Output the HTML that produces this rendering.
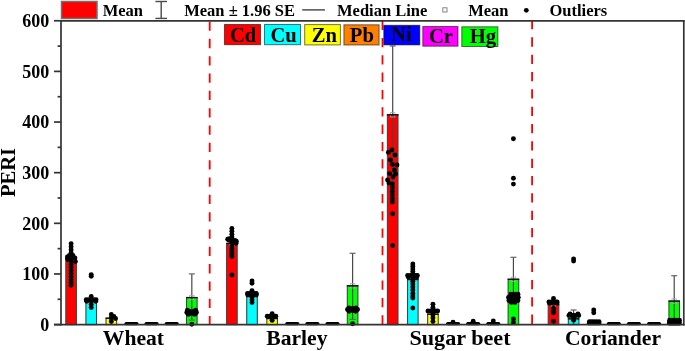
<!DOCTYPE html>
<html><head><meta charset="utf-8"><style>
html,body{margin:0;padding:0;background:#fff;width:685px;height:351px;overflow:hidden;}
svg{display:block;will-change:transform;}
</style></head><body>
<svg width="685" height="351" viewBox="0 0 685 351">
<rect width="685" height="351" fill="#fff"/>
<line x1="209.7" y1="21.5" x2="209.7" y2="324" stroke="#ff0000" stroke-width="1.8" stroke-dasharray="9.3 8.03"/>
<line x1="382.5" y1="20.6" x2="382.5" y2="324" stroke="#ff0000" stroke-width="1.8" stroke-dasharray="9.3 8.03"/>
<line x1="532.1" y1="20.0" x2="532.1" y2="324" stroke="#ff0000" stroke-width="1.8" stroke-dasharray="9.3 8.03"/>
<rect x="65.80" y="258.50" width="10.6" height="66.10" fill="#ff0000" stroke="#444" stroke-width="1.1"/>
<rect x="68.90" y="256.30" width="4.4" height="4.4" fill="none" stroke="#aaa" stroke-width="0.8"/>
<line x1="65.30" y1="258.50" x2="76.90" y2="258.50" stroke="#111" stroke-width="1.4"/>
<circle cx="71.10" cy="243.80" r="2.45" fill="#000"/>
<circle cx="71.10" cy="246.80" r="2.45" fill="#000"/>
<circle cx="71.10" cy="249.80" r="2.45" fill="#000"/>
<circle cx="71.10" cy="252.80" r="2.45" fill="#000"/>
<circle cx="71.10" cy="255.80" r="2.45" fill="#000"/>
<circle cx="71.10" cy="258.80" r="2.45" fill="#000"/>
<circle cx="71.10" cy="261.80" r="2.45" fill="#000"/>
<circle cx="71.10" cy="264.80" r="2.45" fill="#000"/>
<circle cx="71.10" cy="267.60" r="2.45" fill="#000"/>
<circle cx="71.10" cy="270.40" r="2.45" fill="#000"/>
<circle cx="71.10" cy="273.40" r="2.45" fill="#000"/>
<circle cx="71.10" cy="276.60" r="2.45" fill="#000"/>
<circle cx="71.10" cy="279.80" r="2.45" fill="#000"/>
<circle cx="71.10" cy="282.50" r="2.45" fill="#000"/>
<circle cx="71.10" cy="285.20" r="2.45" fill="#000"/>
<circle cx="67.40" cy="257.00" r="2.45" fill="#000"/>
<circle cx="69.40" cy="255.50" r="2.45" fill="#000"/>
<circle cx="72.90" cy="255.50" r="2.45" fill="#000"/>
<circle cx="74.90" cy="258.00" r="2.45" fill="#000"/>
<circle cx="75.40" cy="261.60" r="2.45" fill="#000"/>
<circle cx="67.90" cy="259.50" r="2.45" fill="#000"/>
<rect x="85.92" y="300.50" width="10.6" height="24.10" fill="#00ffff" stroke="#444" stroke-width="1.1"/>
<rect x="89.02" y="298.30" width="4.4" height="4.4" fill="none" stroke="#aaa" stroke-width="0.8"/>
<line x1="85.42" y1="300.50" x2="97.02" y2="300.50" stroke="#111" stroke-width="1.4"/>
<circle cx="91.22" cy="274.60" r="2.45" fill="#000"/>
<circle cx="91.22" cy="276.20" r="2.45" fill="#000"/>
<circle cx="91.22" cy="296.50" r="2.45" fill="#000"/>
<circle cx="91.22" cy="301.00" r="2.45" fill="#000"/>
<circle cx="91.22" cy="304.50" r="2.45" fill="#000"/>
<circle cx="91.22" cy="307.60" r="2.45" fill="#000"/>
<circle cx="86.22" cy="299.80" r="2.45" fill="#000"/>
<circle cx="88.72" cy="299.80" r="2.45" fill="#000"/>
<circle cx="93.72" cy="299.80" r="2.45" fill="#000"/>
<circle cx="96.02" cy="299.80" r="2.45" fill="#000"/>
<circle cx="86.72" cy="301.20" r="2.45" fill="#000"/>
<circle cx="95.72" cy="301.20" r="2.45" fill="#000"/>
<rect x="106.04" y="318.20" width="10.6" height="6.40" fill="#ffff00" stroke="#444" stroke-width="1.1"/>
<rect x="109.14" y="316.00" width="4.4" height="4.4" fill="none" stroke="#aaa" stroke-width="0.8"/>
<line x1="105.54" y1="318.20" x2="117.14" y2="318.20" stroke="#111" stroke-width="1.4"/>
<circle cx="111.34" cy="314.40" r="2.45" fill="#000"/>
<circle cx="111.34" cy="318.00" r="2.45" fill="#000"/>
<circle cx="111.34" cy="321.50" r="2.45" fill="#000"/>
<circle cx="115.54" cy="318.50" r="2.45" fill="#000"/>
<circle cx="113.84" cy="316.50" r="2.45" fill="#000"/>
<rect x="124.46" y="322.00" width="14.00" height="3.20" rx="1.6" fill="#000"/>
<rect x="144.58" y="322.00" width="14.00" height="3.20" rx="1.6" fill="#000"/>
<rect x="164.70" y="322.00" width="14.00" height="3.20" rx="1.6" fill="#000"/>
<rect x="186.52" y="297.60" width="10.6" height="27.00" fill="#00ff00" stroke="#444" stroke-width="1.1"/>
<line x1="191.82" y1="273.9" x2="191.82" y2="320.1" stroke="#484848" stroke-width="1.2"/>
<line x1="188.82" y1="273.9" x2="194.82" y2="273.9" stroke="#666" stroke-width="1.2"/>
<line x1="188.82" y1="320.1" x2="194.82" y2="320.1" stroke="#666" stroke-width="1.2"/>
<rect x="189.62" y="295.40" width="4.4" height="4.4" fill="none" stroke="#aaa" stroke-width="0.8"/>
<line x1="186.02" y1="297.60" x2="197.62" y2="297.60" stroke="#111" stroke-width="1.4"/>
<circle cx="187.42" cy="310.30" r="2.45" fill="#000"/>
<circle cx="186.82" cy="312.50" r="2.45" fill="#000"/>
<circle cx="188.32" cy="314.30" r="2.45" fill="#000"/>
<circle cx="189.42" cy="311.50" r="2.45" fill="#000"/>
<circle cx="189.42" cy="313.80" r="2.45" fill="#000"/>
<circle cx="195.62" cy="310.30" r="2.45" fill="#000"/>
<circle cx="196.42" cy="312.50" r="2.45" fill="#000"/>
<circle cx="194.82" cy="314.30" r="2.45" fill="#000"/>
<circle cx="193.82" cy="311.50" r="2.45" fill="#000"/>
<circle cx="193.82" cy="313.80" r="2.45" fill="#000"/>
<circle cx="191.82" cy="312.00" r="2.45" fill="#000"/>
<circle cx="191.82" cy="313.00" r="2.45" fill="#000"/>
<circle cx="191.82" cy="324.20" r="2.45" fill="#000"/>
<rect x="226.60" y="243.50" width="10.6" height="81.10" fill="#ff0000" stroke="#444" stroke-width="1.1"/>
<rect x="229.70" y="241.30" width="4.4" height="4.4" fill="none" stroke="#aaa" stroke-width="0.8"/>
<line x1="226.10" y1="243.50" x2="237.70" y2="243.50" stroke="#111" stroke-width="1.4"/>
<circle cx="231.90" cy="228.40" r="2.45" fill="#000"/>
<circle cx="231.90" cy="231.30" r="2.45" fill="#000"/>
<circle cx="231.90" cy="234.20" r="2.45" fill="#000"/>
<circle cx="231.90" cy="237.10" r="2.45" fill="#000"/>
<circle cx="231.90" cy="240.00" r="2.45" fill="#000"/>
<circle cx="231.90" cy="243.00" r="2.45" fill="#000"/>
<circle cx="231.90" cy="246.00" r="2.45" fill="#000"/>
<circle cx="231.90" cy="249.00" r="2.45" fill="#000"/>
<circle cx="231.90" cy="252.00" r="2.45" fill="#000"/>
<circle cx="231.90" cy="254.50" r="2.45" fill="#000"/>
<circle cx="231.90" cy="256.60" r="2.45" fill="#000"/>
<circle cx="231.90" cy="275.00" r="2.45" fill="#000"/>
<circle cx="227.70" cy="239.20" r="2.45" fill="#000"/>
<circle cx="229.30" cy="238.80" r="2.45" fill="#000"/>
<circle cx="228.90" cy="240.20" r="2.45" fill="#000"/>
<circle cx="236.30" cy="241.20" r="2.45" fill="#000"/>
<circle cx="234.90" cy="240.50" r="2.45" fill="#000"/>
<circle cx="236.10" cy="243.20" r="2.45" fill="#000"/>
<circle cx="234.40" cy="242.50" r="2.45" fill="#000"/>
<rect x="246.72" y="296.50" width="10.6" height="28.10" fill="#00ffff" stroke="#444" stroke-width="1.1"/>
<rect x="249.82" y="294.30" width="4.4" height="4.4" fill="none" stroke="#aaa" stroke-width="0.8"/>
<line x1="246.22" y1="296.50" x2="257.82" y2="296.50" stroke="#111" stroke-width="1.4"/>
<circle cx="252.02" cy="281.00" r="2.45" fill="#000"/>
<circle cx="252.02" cy="283.20" r="2.45" fill="#000"/>
<circle cx="252.02" cy="290.60" r="2.45" fill="#000"/>
<circle cx="252.02" cy="297.00" r="2.45" fill="#000"/>
<circle cx="252.02" cy="300.00" r="2.45" fill="#000"/>
<circle cx="252.02" cy="302.60" r="2.45" fill="#000"/>
<circle cx="247.52" cy="293.50" r="2.45" fill="#000"/>
<circle cx="249.82" cy="293.50" r="2.45" fill="#000"/>
<circle cx="252.02" cy="293.50" r="2.45" fill="#000"/>
<circle cx="254.22" cy="293.50" r="2.45" fill="#000"/>
<circle cx="256.22" cy="293.50" r="2.45" fill="#000"/>
<circle cx="247.72" cy="294.80" r="2.45" fill="#000"/>
<circle cx="250.02" cy="294.80" r="2.45" fill="#000"/>
<circle cx="254.02" cy="294.80" r="2.45" fill="#000"/>
<circle cx="256.42" cy="294.80" r="2.45" fill="#000"/>
<rect x="266.84" y="318.50" width="10.6" height="6.10" fill="#ffff00" stroke="#444" stroke-width="1.1"/>
<rect x="269.94" y="316.30" width="4.4" height="4.4" fill="none" stroke="#aaa" stroke-width="0.8"/>
<line x1="266.34" y1="318.50" x2="277.94" y2="318.50" stroke="#111" stroke-width="1.4"/>
<circle cx="272.14" cy="313.80" r="2.45" fill="#000"/>
<circle cx="272.14" cy="317.50" r="2.45" fill="#000"/>
<circle cx="272.14" cy="320.40" r="2.45" fill="#000"/>
<circle cx="267.24" cy="316.20" r="2.45" fill="#000"/>
<circle cx="269.64" cy="316.20" r="2.45" fill="#000"/>
<circle cx="274.64" cy="316.20" r="2.45" fill="#000"/>
<circle cx="275.84" cy="316.20" r="2.45" fill="#000"/>
<rect x="285.26" y="322.00" width="14.00" height="3.20" rx="1.6" fill="#000"/>
<rect x="305.38" y="322.00" width="14.00" height="3.20" rx="1.6" fill="#000"/>
<rect x="325.50" y="322.00" width="14.00" height="3.20" rx="1.6" fill="#000"/>
<rect x="347.32" y="285.80" width="10.6" height="38.80" fill="#00ff00" stroke="#444" stroke-width="1.1"/>
<line x1="352.62" y1="253.3" x2="352.62" y2="319.4" stroke="#484848" stroke-width="1.2"/>
<line x1="349.62" y1="253.3" x2="355.62" y2="253.3" stroke="#666" stroke-width="1.2"/>
<line x1="349.62" y1="319.4" x2="355.62" y2="319.4" stroke="#666" stroke-width="1.2"/>
<rect x="350.42" y="283.60" width="4.4" height="4.4" fill="none" stroke="#aaa" stroke-width="0.8"/>
<line x1="346.82" y1="285.80" x2="358.42" y2="285.80" stroke="#111" stroke-width="1.4"/>
<circle cx="348.92" cy="307.90" r="2.45" fill="#000"/>
<circle cx="347.52" cy="309.50" r="2.45" fill="#000"/>
<circle cx="349.12" cy="311.30" r="2.45" fill="#000"/>
<circle cx="350.92" cy="309.50" r="2.45" fill="#000"/>
<circle cx="355.92" cy="307.90" r="2.45" fill="#000"/>
<circle cx="357.52" cy="309.50" r="2.45" fill="#000"/>
<circle cx="355.72" cy="311.30" r="2.45" fill="#000"/>
<circle cx="354.32" cy="309.50" r="2.45" fill="#000"/>
<circle cx="352.62" cy="309.50" r="2.45" fill="#000"/>
<circle cx="352.62" cy="308.50" r="2.45" fill="#000"/>
<circle cx="352.62" cy="310.50" r="2.45" fill="#000"/>
<circle cx="352.62" cy="323.80" r="2.45" fill="#000"/>
<rect x="387.40" y="114.80" width="10.6" height="209.80" fill="#ff0000" stroke="#444" stroke-width="1.1"/>
<line x1="392.70" y1="46.0" x2="392.70" y2="183.8" stroke="#484848" stroke-width="1.2"/>
<line x1="389.70" y1="46.0" x2="395.70" y2="46.0" stroke="#666" stroke-width="1.2"/>
<line x1="389.70" y1="183.8" x2="395.70" y2="183.8" stroke="#666" stroke-width="1.2"/>
<rect x="390.50" y="112.60" width="4.4" height="4.4" fill="none" stroke="#aaa" stroke-width="0.8"/>
<line x1="386.90" y1="114.80" x2="398.50" y2="114.80" stroke="#111" stroke-width="1.4"/>
<circle cx="388.40" cy="152.40" r="2.45" fill="#000"/>
<circle cx="392.00" cy="150.00" r="2.45" fill="#000"/>
<circle cx="395.00" cy="155.00" r="2.45" fill="#000"/>
<circle cx="390.40" cy="160.00" r="2.45" fill="#000"/>
<circle cx="392.40" cy="164.40" r="2.45" fill="#000"/>
<circle cx="397.00" cy="165.00" r="2.45" fill="#000"/>
<circle cx="394.40" cy="170.00" r="2.45" fill="#000"/>
<circle cx="389.60" cy="173.60" r="2.45" fill="#000"/>
<circle cx="395.60" cy="174.00" r="2.45" fill="#000"/>
<circle cx="393.00" cy="177.00" r="2.45" fill="#000"/>
<circle cx="387.60" cy="180.00" r="2.45" fill="#000"/>
<circle cx="389.00" cy="183.00" r="2.45" fill="#000"/>
<circle cx="392.40" cy="184.00" r="2.45" fill="#000"/>
<circle cx="392.40" cy="187.60" r="2.45" fill="#000"/>
<circle cx="392.40" cy="191.20" r="2.45" fill="#000"/>
<circle cx="392.40" cy="194.80" r="2.45" fill="#000"/>
<circle cx="392.40" cy="198.40" r="2.45" fill="#000"/>
<circle cx="392.40" cy="202.00" r="2.45" fill="#000"/>
<circle cx="392.70" cy="213.70" r="2.45" fill="#000"/>
<circle cx="392.70" cy="245.50" r="2.45" fill="#000"/>
<rect x="407.52" y="279.50" width="10.6" height="45.10" fill="#00ffff" stroke="#444" stroke-width="1.1"/>
<rect x="410.62" y="277.30" width="4.4" height="4.4" fill="none" stroke="#aaa" stroke-width="0.8"/>
<line x1="407.02" y1="279.50" x2="418.62" y2="279.50" stroke="#111" stroke-width="1.4"/>
<circle cx="412.82" cy="264.00" r="2.45" fill="#000"/>
<circle cx="412.82" cy="266.50" r="2.45" fill="#000"/>
<circle cx="412.82" cy="269.00" r="2.45" fill="#000"/>
<circle cx="412.82" cy="271.50" r="2.45" fill="#000"/>
<circle cx="412.82" cy="274.00" r="2.45" fill="#000"/>
<circle cx="412.82" cy="276.50" r="2.45" fill="#000"/>
<circle cx="412.82" cy="279.00" r="2.45" fill="#000"/>
<circle cx="412.82" cy="281.50" r="2.45" fill="#000"/>
<circle cx="412.82" cy="284.00" r="2.45" fill="#000"/>
<circle cx="412.82" cy="287.00" r="2.45" fill="#000"/>
<circle cx="412.82" cy="290.00" r="2.45" fill="#000"/>
<circle cx="412.82" cy="293.50" r="2.45" fill="#000"/>
<circle cx="412.82" cy="296.00" r="2.45" fill="#000"/>
<circle cx="412.82" cy="298.00" r="2.45" fill="#000"/>
<circle cx="412.82" cy="308.00" r="2.45" fill="#000"/>
<circle cx="407.62" cy="275.50" r="2.45" fill="#000"/>
<circle cx="410.22" cy="275.50" r="2.45" fill="#000"/>
<circle cx="415.42" cy="275.50" r="2.45" fill="#000"/>
<circle cx="417.32" cy="275.50" r="2.45" fill="#000"/>
<circle cx="408.32" cy="277.00" r="2.45" fill="#000"/>
<circle cx="416.82" cy="277.00" r="2.45" fill="#000"/>
<rect x="427.64" y="314.20" width="10.6" height="10.40" fill="#ffff00" stroke="#444" stroke-width="1.1"/>
<rect x="430.74" y="312.00" width="4.4" height="4.4" fill="none" stroke="#aaa" stroke-width="0.8"/>
<line x1="427.14" y1="314.20" x2="438.74" y2="314.20" stroke="#111" stroke-width="1.4"/>
<circle cx="432.94" cy="304.30" r="2.45" fill="#000"/>
<circle cx="432.94" cy="307.50" r="2.45" fill="#000"/>
<circle cx="432.94" cy="311.00" r="2.45" fill="#000"/>
<circle cx="432.94" cy="314.50" r="2.45" fill="#000"/>
<circle cx="432.94" cy="318.00" r="2.45" fill="#000"/>
<circle cx="432.94" cy="321.50" r="2.45" fill="#000"/>
<circle cx="427.94" cy="311.00" r="2.45" fill="#000"/>
<circle cx="430.44" cy="311.00" r="2.45" fill="#000"/>
<circle cx="435.44" cy="311.00" r="2.45" fill="#000"/>
<circle cx="437.64" cy="311.00" r="2.45" fill="#000"/>
<rect x="446.06" y="322.00" width="14.00" height="3.20" rx="1.6" fill="#000"/>
<circle cx="453.06" cy="322.30" r="2.45" fill="#000"/>
<rect x="466.18" y="322.00" width="14.00" height="3.20" rx="1.6" fill="#000"/>
<circle cx="473.18" cy="321.30" r="2.45" fill="#000"/>
<rect x="486.30" y="322.00" width="14.00" height="3.20" rx="1.6" fill="#000"/>
<circle cx="493.30" cy="320.90" r="2.45" fill="#000"/>
<rect x="508.12" y="279.30" width="10.6" height="45.30" fill="#00ff00" stroke="#444" stroke-width="1.1"/>
<line x1="513.42" y1="257.3" x2="513.42" y2="302.8" stroke="#484848" stroke-width="1.2"/>
<line x1="510.42" y1="257.3" x2="516.42" y2="257.3" stroke="#666" stroke-width="1.2"/>
<line x1="510.42" y1="302.8" x2="516.42" y2="302.8" stroke="#666" stroke-width="1.2"/>
<rect x="511.22" y="277.10" width="4.4" height="4.4" fill="none" stroke="#aaa" stroke-width="0.8"/>
<line x1="507.62" y1="279.30" x2="519.22" y2="279.30" stroke="#111" stroke-width="1.4"/>
<circle cx="510.92" cy="294.20" r="2.45" fill="#000"/>
<circle cx="513.42" cy="294.20" r="2.45" fill="#000"/>
<circle cx="515.92" cy="294.20" r="2.45" fill="#000"/>
<circle cx="517.92" cy="294.20" r="2.45" fill="#000"/>
<circle cx="508.52" cy="297.50" r="2.45" fill="#000"/>
<circle cx="511.02" cy="297.50" r="2.45" fill="#000"/>
<circle cx="513.42" cy="297.50" r="2.45" fill="#000"/>
<circle cx="515.82" cy="297.50" r="2.45" fill="#000"/>
<circle cx="518.32" cy="297.50" r="2.45" fill="#000"/>
<circle cx="508.92" cy="300.50" r="2.45" fill="#000"/>
<circle cx="511.42" cy="300.50" r="2.45" fill="#000"/>
<circle cx="513.42" cy="300.50" r="2.45" fill="#000"/>
<circle cx="515.92" cy="300.50" r="2.45" fill="#000"/>
<circle cx="517.92" cy="300.50" r="2.45" fill="#000"/>
<circle cx="511.42" cy="302.40" r="2.45" fill="#000"/>
<circle cx="514.92" cy="302.40" r="2.45" fill="#000"/>
<circle cx="513.42" cy="319.00" r="2.45" fill="#000"/>
<circle cx="513.42" cy="322.50" r="2.45" fill="#000"/>
<circle cx="513.42" cy="138.80" r="2.45" fill="#000"/>
<circle cx="513.42" cy="178.20" r="2.45" fill="#000"/>
<circle cx="513.42" cy="184.10" r="2.45" fill="#000"/>
<rect x="548.20" y="304.50" width="10.6" height="20.10" fill="#ff0000" stroke="#444" stroke-width="1.1"/>
<rect x="551.30" y="302.30" width="4.4" height="4.4" fill="none" stroke="#aaa" stroke-width="0.8"/>
<line x1="547.70" y1="304.50" x2="559.30" y2="304.50" stroke="#111" stroke-width="1.4"/>
<circle cx="553.50" cy="298.50" r="2.45" fill="#000"/>
<circle cx="553.50" cy="308.30" r="2.45" fill="#000"/>
<circle cx="553.50" cy="310.50" r="2.45" fill="#000"/>
<circle cx="553.50" cy="312.80" r="2.45" fill="#000"/>
<circle cx="553.50" cy="321.30" r="2.45" fill="#000"/>
<circle cx="548.90" cy="302.00" r="2.45" fill="#000"/>
<circle cx="551.20" cy="302.00" r="2.45" fill="#000"/>
<circle cx="553.50" cy="302.00" r="2.45" fill="#000"/>
<circle cx="555.80" cy="302.00" r="2.45" fill="#000"/>
<circle cx="557.10" cy="302.00" r="2.45" fill="#000"/>
<circle cx="549.50" cy="303.00" r="2.45" fill="#000"/>
<circle cx="557.00" cy="303.00" r="2.45" fill="#000"/>
<rect x="568.32" y="318.80" width="10.6" height="5.80" fill="#00ffff" stroke="#444" stroke-width="1.1"/>
<line x1="573.62" y1="310.0" x2="573.62" y2="324" stroke="#484848" stroke-width="1.2"/>
<line x1="570.62" y1="310.0" x2="576.62" y2="310.0" stroke="#666" stroke-width="1.2"/>
<rect x="571.42" y="316.60" width="4.4" height="4.4" fill="none" stroke="#aaa" stroke-width="0.8"/>
<line x1="567.82" y1="318.80" x2="579.42" y2="318.80" stroke="#111" stroke-width="1.4"/>
<circle cx="573.62" cy="259.00" r="2.45" fill="#000"/>
<circle cx="573.62" cy="261.10" r="2.45" fill="#000"/>
<circle cx="573.62" cy="317.50" r="2.45" fill="#000"/>
<circle cx="573.62" cy="320.30" r="2.45" fill="#000"/>
<circle cx="568.92" cy="315.50" r="2.45" fill="#000"/>
<circle cx="571.32" cy="315.50" r="2.45" fill="#000"/>
<circle cx="573.62" cy="315.50" r="2.45" fill="#000"/>
<circle cx="575.92" cy="315.50" r="2.45" fill="#000"/>
<circle cx="578.72" cy="315.50" r="2.45" fill="#000"/>
<circle cx="570.12" cy="314.00" r="2.45" fill="#000"/>
<circle cx="577.92" cy="314.00" r="2.45" fill="#000"/>
<rect x="586.80" y="321.20" width="14.60" height="4.00" rx="1.6" fill="#000"/>
<circle cx="593.74" cy="310.00" r="2.45" fill="#000"/>
<circle cx="593.74" cy="312.70" r="2.45" fill="#000"/>
<circle cx="589.44" cy="321.60" r="2.45" fill="#000"/>
<circle cx="591.74" cy="321.60" r="2.45" fill="#000"/>
<circle cx="594.04" cy="321.60" r="2.45" fill="#000"/>
<circle cx="596.44" cy="321.60" r="2.45" fill="#000"/>
<circle cx="599.04" cy="321.60" r="2.45" fill="#000"/>
<rect x="606.86" y="322.00" width="14.00" height="3.20" rx="1.6" fill="#000"/>
<rect x="626.98" y="322.00" width="14.00" height="3.20" rx="1.6" fill="#000"/>
<rect x="647.10" y="322.00" width="14.00" height="3.20" rx="1.6" fill="#000"/>
<rect x="668.92" y="301.10" width="10.6" height="23.50" fill="#00ff00" stroke="#444" stroke-width="1.1"/>
<line x1="674.22" y1="275.7" x2="674.22" y2="324" stroke="#484848" stroke-width="1.2"/>
<line x1="671.22" y1="275.7" x2="677.22" y2="275.7" stroke="#666" stroke-width="1.2"/>
<rect x="672.02" y="298.90" width="4.4" height="4.4" fill="none" stroke="#aaa" stroke-width="0.8"/>
<line x1="668.42" y1="301.10" x2="680.02" y2="301.10" stroke="#111" stroke-width="1.4"/>
<rect x="666.90" y="320.00" width="14.90" height="5.40" rx="2.6" fill="#000"/>
<circle cx="669.62" cy="320.30" r="2.45" fill="#000"/>
<circle cx="672.02" cy="320.30" r="2.45" fill="#000"/>
<circle cx="674.42" cy="320.30" r="2.45" fill="#000"/>
<circle cx="676.82" cy="320.30" r="2.45" fill="#000"/>
<circle cx="679.42" cy="320.30" r="2.45" fill="#000"/>
<g stroke="#333" stroke-width="1.7" fill="none">
<line x1="54" y1="324.6" x2="684.6" y2="324.6"/>
<line x1="61" y1="20" x2="61" y2="325.4"/>
<line x1="61" y1="20.8" x2="684.6" y2="20.8"/>
<line x1="683.8" y1="20" x2="683.8" y2="325.4"/>
<line x1="54" y1="324.60" x2="61" y2="324.60"/>
<line x1="54" y1="273.96" x2="61" y2="273.96"/>
<line x1="54" y1="223.32" x2="61" y2="223.32"/>
<line x1="54" y1="172.68" x2="61" y2="172.68"/>
<line x1="54" y1="122.04" x2="61" y2="122.04"/>
<line x1="54" y1="71.40" x2="61" y2="71.40"/>
<line x1="54" y1="20.76" x2="61" y2="20.76"/>
<line x1="57.6" y1="299.28" x2="61" y2="299.28"/>
<line x1="57.6" y1="248.64" x2="61" y2="248.64"/>
<line x1="57.6" y1="198.00" x2="61" y2="198.00"/>
<line x1="57.6" y1="147.36" x2="61" y2="147.36"/>
<line x1="57.6" y1="96.72" x2="61" y2="96.72"/>
<line x1="57.6" y1="46.08" x2="61" y2="46.08"/>
</g>
<g font-family="Liberation Serif, serif" font-weight="bold" font-size="18" text-anchor="end" fill="#000">
<text x="49.3" y="330.80">0</text>
<text x="49.3" y="280.16">100</text>
<text x="49.3" y="229.52">200</text>
<text x="49.3" y="178.88">300</text>
<text x="49.3" y="128.24">400</text>
<text x="49.3" y="77.60">500</text>
<text x="49.3" y="26.96">600</text>
</g>
<text transform="translate(14.8,172.5) rotate(-90)" text-anchor="middle" font-family="Liberation Serif, serif" font-weight="bold" font-size="20.6">PERI</text>
<g font-family="Liberation Serif, serif" font-weight="bold" font-size="21.6" fill="#000">
<text x="102.8" y="345.4">Wheat</text>
<text x="266.3" y="345.4">Barley</text>
<text x="409.4" y="345.4" textLength="101.2" lengthAdjust="spacingAndGlyphs">Sugar beet</text>
<text x="565.0" y="345.4">Coriander</text>
</g>
<rect x="224.5" y="24.5" width="36.00" height="20.20" fill="#ff0000" stroke="rgba(0,0,0,0.55)" stroke-width="1"/>
<text x="230.00" y="41.60" font-family="Liberation Serif, serif" font-weight="bold" font-size="20.6">Cd</text>
<rect x="264.5" y="24.5" width="36.00" height="20.20" fill="#00ffff" stroke="rgba(0,0,0,0.55)" stroke-width="1"/>
<text x="270.40" y="41.60" font-family="Liberation Serif, serif" font-weight="bold" font-size="20.6">Cu</text>
<rect x="304.7" y="24.6" width="35.70" height="20.30" fill="#ffff00" stroke="rgba(0,0,0,0.55)" stroke-width="1"/>
<text x="311.80" y="41.60" font-family="Liberation Serif, serif" font-weight="bold" font-size="20.6">Zn</text>
<rect x="343.9" y="24.8" width="35.20" height="20.20" fill="#ff8000" stroke="rgba(0,0,0,0.55)" stroke-width="1"/>
<text x="349.80" y="41.60" font-family="Liberation Serif, serif" font-weight="bold" font-size="20.6">Pb</text>
<rect x="383.8" y="25.3" width="36.00" height="19.60" fill="#0000ff" stroke="rgba(0,0,0,0.55)" stroke-width="1"/>
<text x="391.10" y="40.90" font-family="Liberation Serif, serif" font-weight="bold" font-size="20.6">Ni</text>
<rect x="422.8" y="26.5" width="35.20" height="19.70" fill="#ff00ff" stroke="rgba(0,0,0,0.55)" stroke-width="1"/>
<text x="429.00" y="43.00" font-family="Liberation Serif, serif" font-weight="bold" font-size="20.6">Cr</text>
<rect x="461.8" y="26.8" width="36.10" height="19.70" fill="#00ff00" stroke="rgba(0,0,0,0.55)" stroke-width="1"/>
<text x="469.80" y="43.20" font-family="Liberation Serif, serif" font-weight="bold" font-size="20.6">Hg</text>
<rect x="61.5" y="1.5" width="35.5" height="17" fill="#ff0000" stroke="#707070" stroke-width="1.5"/>
<g stroke="#4a4a4a" stroke-width="1.4"><line x1="161.2" y1="1.5" x2="161.2" y2="18.4"/><line x1="155.4" y1="1.5" x2="167" y2="1.5"/><line x1="155.4" y1="18.4" x2="167" y2="18.4"/></g>
<line x1="302.2" y1="9.9" x2="325" y2="9.9" stroke="#444" stroke-width="1.4"/>
<rect x="442.8" y="7.8" width="4.2" height="4.2" fill="#fff" stroke="#777" stroke-width="0.9"/>
<circle cx="526.3" cy="10.3" r="2.4" fill="#000"/>
<g font-family="Liberation Serif, serif" font-weight="bold" font-size="16.5" fill="#000">
<text x="102.7" y="16.0">Mean</text>
<text x="184.2" y="16.0">Mean ± 1.96 SE</text>
<text x="337.0" y="16.0">Median Line</text>
<text x="468.2" y="16.0">Mean</text>
<text x="549.5" y="16.0">Outliers</text>
</g>
</svg>
</body></html>
